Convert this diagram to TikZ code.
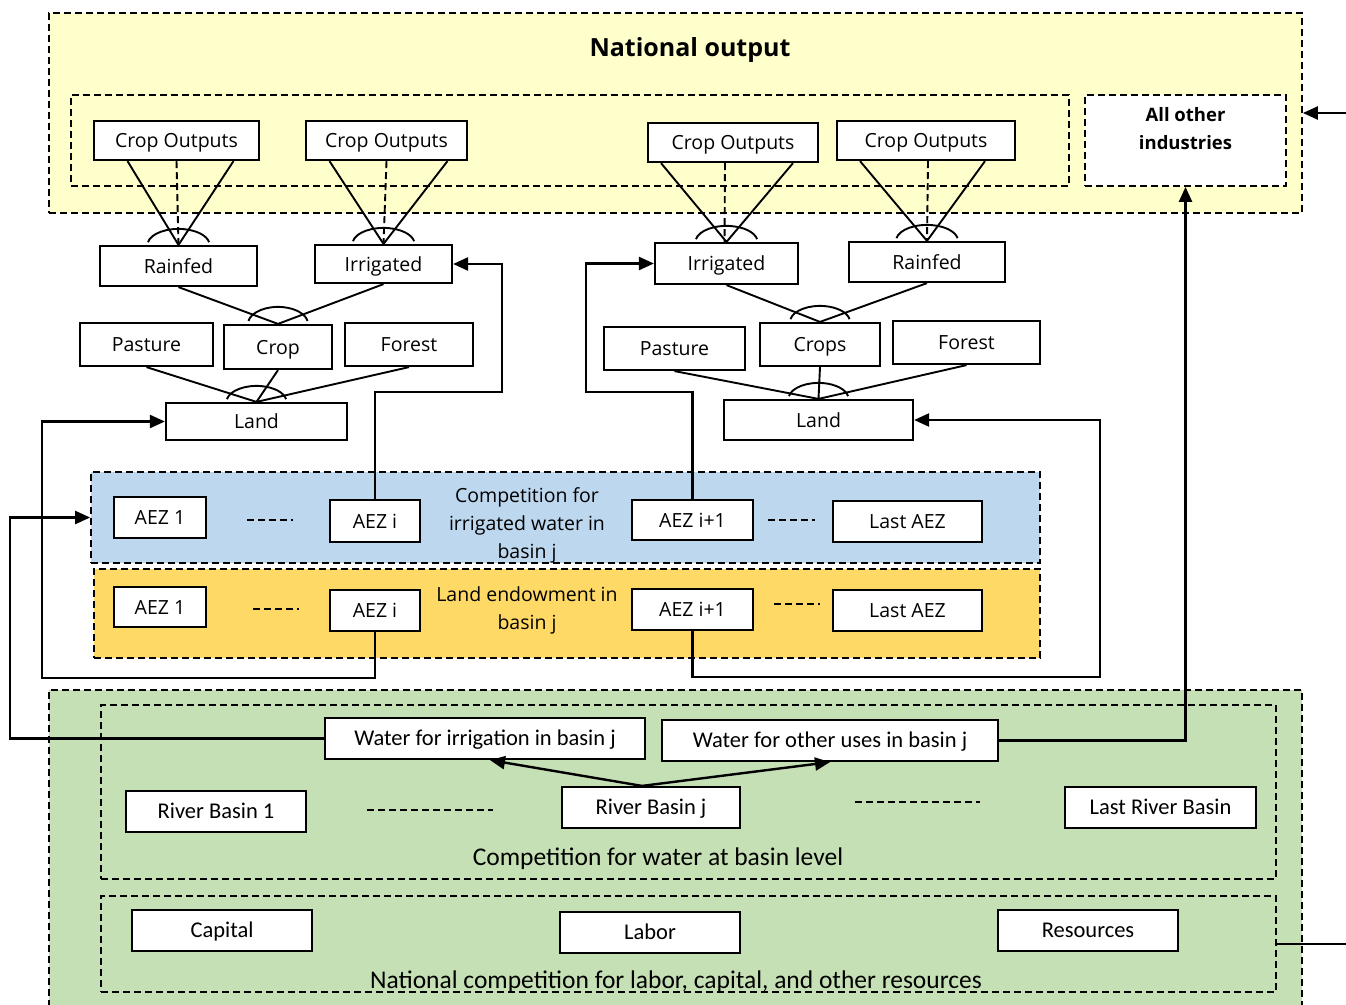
\documentclass[tikz,border=0pt]{standalone}
\usepackage{fontspec}
\setmainfont{Open Sans}
\newfontfamily\calfont{Carlito}
\usetikzlibrary{arrows.meta}
\definecolor{ybg}{RGB}{255,255,204}
\definecolor{bbg}{RGB}{189,215,238}
\definecolor{obg}{RGB}{255,217,102}
\definecolor{gbg}{RGB}{197,224,180}
\tikzset{
  box/.style={draw, line width=2.2pt, fill=white, inner sep=0pt, font=\fontsize{19.5}{22}\selectfont, text height=14pt, text depth=0pt},
  cbox/.style={box, font=\calfont\fontsize{22.5}{26}\selectfont, text height=14.5pt},
  dbox/.style={draw, line width=1.8pt, dash pattern=on 7pt off 4pt, inner sep=0pt},
  conn/.style={line width=2.4pt},
  arr/.style={conn, -{Triangle[length=15pt,width=13pt]}},
  tree/.style={line width=1.9pt},
  dsh/.style={line width=1.9pt, dash pattern=on 7pt off 4pt},
  lbl/.style={inner sep=0pt, font=\fontsize{19.5}{28}\selectfont, align=center},
}
\newcommand{\myarc}[3]{\draw[tree] ([shift={(170:#2pt and #3pt)}]#1) arc[start angle=170, end angle=10, x radius=#2pt, y radius=#3pt];}
\begin{document}
\begin{tikzpicture}[x=1pt,y=-1pt]
\useasboundingbox (0,0) rectangle (1346,1004);
\clip (0,0) rectangle (1346,1004);
% National output
\node[dbox, fill=ybg, minimum width=1253, minimum height=200] (natout) at (675.5,113) {};
\node[lbl, font=\bfseries\fontsize{25}{28}\selectfont] (natt) at (690,50) {National output};
\node[dbox, minimum width=998, minimum height=91] (crops) at (570,140.5) {};
\node[dbox, fill=white, minimum width=201, minimum height=91] (aoi) at (1185.5,140.5) {};
\node[lbl, font=\bfseries\fontsize{18.5}{28}\selectfont] (aoit) at (1185.5,129) {All other\\industries};
\coordinate (inR) at (1346,113);
\draw[arr] (inR) -- (natout.east);
% Crop outputs
\node[box, minimum width=165, minimum height=39] (co1) at (176.5,140.5) {Crop Outputs};
\node[box, minimum width=161, minimum height=39] (co2) at (386.5,140.5) {Crop Outputs};
\node[box, minimum width=170, minimum height=39] (co3) at (733,142.5) {Crop Outputs};
\node[box, minimum width=178, minimum height=39] (co4) at (926,140.5) {Crop Outputs};
% second row
\node[box, minimum width=157, minimum height=40] (rf1) at (178.5,266) {Rainfed};
\node[box, minimum width=137, minimum height=38] (ir1) at (383.5,264) {Irrigated};
\node[box, minimum width=143, minimum height=41] (ir2) at (726.5,263.5) {Irrigated};
\node[box, minimum width=156, minimum height=40] (rf2) at (927,262) {Rainfed};
% trees top
\draw[tree] ([xshift=-49]co1.south) -- (rf1.north) -- ([xshift=57]co1.south);
\draw[dsh] (co1.south) -- (rf1.north);
\myarc{rf1.north}{31}{16}
\draw[tree] ([xshift=-57]co2.south) -- (ir1.north) -- ([xshift=61]co2.south);
\draw[dsh] (co2.south) -- (ir1.north);
\myarc{ir1.north}{31}{16}
\draw[tree] ([xshift=-72]co3.south) -- (ir2.north) -- ([xshift=60]co3.south);
\draw[dsh] ([xshift=-8]co3.south) -- ([xshift=-2]ir2.north);
\myarc{ir2.north}{31}{16}
\draw[tree] ([xshift=-66]co4.south) -- (rf2.north) -- ([xshift=59]co4.south);
\draw[dsh] ([xshift=2]co4.south) -- (rf2.north);
\myarc{rf2.north}{31}{16}
% land use left
\node[box, minimum width=133, minimum height=43] (pa1) at (146.5,344.5) {Pasture};
\node[box, minimum width=108, minimum height=44] (cr1) at (278,347) {Crop};
\node[box, minimum width=128, minimum height=43] (fo1) at (409,344.5) {Forest};
\node[box, minimum width=181, minimum height=37] (la1) at (256.5,421.5) {Land};
\draw[tree] (rf1.south) -- (cr1.north) -- (ir1.south);
\myarc{cr1.north}{30}{17}
\draw[tree] (pa1.south) -- (la1.north) -- (fo1.south);
\draw[tree] (cr1.south) -- (la1.north);
\myarc{la1.north}{30}{16}
% land use right
\node[box, minimum width=141, minimum height=43] (pa2) at (674.5,348.5) {Pasture};
\node[box, minimum width=120, minimum height=43] (cr2) at (820,344.5) {Crops};
\node[box, minimum width=147, minimum height=43] (fo2) at (966.5,342.5) {Forest};
\node[box, minimum width=189, minimum height=40] (la2) at (818.5,420) {Land};
\draw[tree] (ir2.south) -- (cr2.north) -- (rf2.south);
\myarc{cr2.north}{30}{16}
\draw[tree] (pa2.south) -- (la2.north) -- (fo2.south);
\draw[tree] (cr2.south) -- (la2.north);
\myarc{la2.north}{30}{16}
% blue box
\node[dbox, fill=bbg, minimum width=949, minimum height=91] (blue) at (565.5,517.5) {};
\node[box, minimum width=92, minimum height=41] (bA1) at (160,517.5) {AEZ 1};
\node[box, minimum width=90, minimum height=42] (bAi) at (375,521) {AEZ i};
\node[box, minimum width=121, minimum height=40] (bAj) at (692.5,520) {AEZ i+1};
\node[box, minimum width=149, minimum height=41] (bAl) at (907.5,521.5) {Last AEZ};
\node[lbl] (bt) at (527,525) {Competition for\\irrigated water in\\basin j};
\draw[dsh] (247,520) -- (293,520);
\draw[dsh] (768,520) -- (815,520);
% orange box
\node[dbox, fill=obg, minimum width=946, minimum height=89] (orng) at (567,613.5) {};
\node[box, minimum width=92, minimum height=40] (oA1) at (160,607) {AEZ 1};
\node[box, minimum width=90, minimum height=41] (oAi) at (375,610.5) {AEZ i};
\node[box, minimum width=121, minimum height=41] (oAj) at (692.5,609.5) {AEZ i+1};
\node[box, minimum width=149, minimum height=41] (oAl) at (907.5,610.5) {Last AEZ};
\node[lbl] (ot) at (527,610) {Land endowment in\\basin j};
\draw[dsh] (253,609) -- (299,609);
\draw[dsh] (774,604) -- (820,604);
% green box
\node[dbox, fill=gbg, minimum width=1253, minimum height=330] (green) at (675.5,855) {};
\node[dbox, minimum width=1175, minimum height=174] (wbox) at (688.5,792) {};
\node[dbox, minimum width=1175, minimum height=96] (nbox) at (688.5,944) {};
\node[cbox, minimum width=320, minimum height=41] (wi) at (485,738.5) {Water for irrigation in basin j};
\node[cbox, minimum width=336, minimum height=41] (wo) at (830,740.5) {Water for other uses in basin j};
\node[cbox, minimum width=180, minimum height=41] (rb1) at (216,811.5) {River Basin 1};
\node[cbox, minimum width=178, minimum height=41] (rbj) at (651,807.5) {River Basin j};
\node[cbox, minimum width=191, minimum height=41] (rbl) at (1160.5,807.5) {Last River Basin};
\draw[dsh] (367,810) -- (493,810);
\draw[dsh] (855,802) -- (980,802);
\node[lbl, font=\calfont\fontsize{25.5}{28}\selectfont] (wt) at (658,859) {Competition for water at basin level};
\draw[arr] ([xshift=-9]rbj.north) -- ([xshift=5]wi.south);
\draw[arr] ([xshift=-9]rbj.north) -- (wo.south);
\node[cbox, minimum width=180, minimum height=41] (cap) at (222,930.5) {Capital};
\node[cbox, minimum width=180, minimum height=41] (lab) at (650,932.5) {Labor};
\node[cbox, minimum width=180, minimum height=41] (res) at (1088,930.5) {Resources};
\node[lbl, font=\calfont\fontsize{25.5}{28}\selectfont] (nt) at (676,982) {National competition for labor, capital, and other resources};
\coordinate (outR) at (1346,944);
\draw[conn] (nbox.east) -- (outR);
% connectors
\coordinate (c1) at (502,392);
\draw[arr] (bAi.north) |- (c1) |- (ir1.east);
\coordinate (c2) at (586,392);
\draw[arr] (bAj.north) |- (c2) |- (ir2.west);
\coordinate (c3) at (42,678);
\draw[arr] (oAi.south) |- (c3) |- (la1.west);
\coordinate (c4) at (1100,677);
\draw[arr] (oAj.south) |- (c4) |- (la2.east);
\coordinate (c5) at (10,517.5);
\draw[arr] (wi.west) -| (c5) -- (blue.west);
\draw[arr] (wo.east) -| (aoi.south);
\end{tikzpicture}
\end{document}
